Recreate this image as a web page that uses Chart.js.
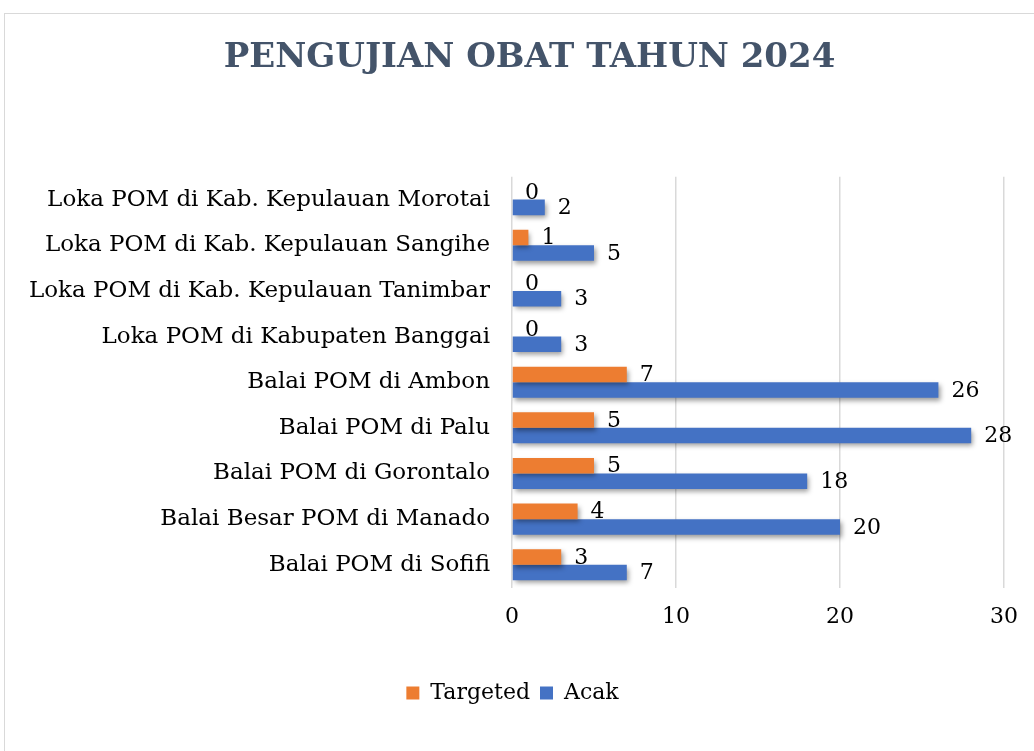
<!DOCTYPE html>
<html><head><meta charset="utf-8">
<script src="https://cdn.jsdelivr.net/npm/chart.js@4.4.1/dist/chart.umd.min.js"></script>
<style>
html,body{margin:0;padding:0;background:#fff;overflow:hidden;}
#frame{position:absolute;left:4px;top:13px;width:1040px;height:760px;border:1px solid #d9d9d9;box-sizing:border-box;}
#wrap{position:absolute;left:0;top:0;width:1029px;height:737px;}
</style></head>
<body>
<div id="frame"><div id="wrap"><canvas id="c"></canvas></div></div>
<script>
const categories = [
  "Loka POM di Kab. Kepulauan Morotai",
  "Loka POM di Kab. Kepulauan Sangihe",
  "Loka POM di Kab. Kepulauan Tanimbar",
  "Loka POM di Kabupaten Banggai",
  "Balai POM di Ambon",
  "Balai POM di Palu",
  "Balai POM di Gorontalo",
  "Balai Besar POM di Manado",
  "Balai POM di Sofifi"
];
const targeted = [0, 1, 0, 0, 7, 5, 5, 4, 3];
const acak = [2, 5, 3, 3, 26, 28, 18, 20, 7];
const xTicks = [0, 10, 20, 30];

const serif = "'DejaVu Serif', serif";

const shiftPlugin = {
  id: 'shiftBoxes',
  afterLayout(chart) {
    if (chart.titleBlock) { chart.titleBlock.left += 24; chart.titleBlock.right += 24; }
    if (chart.legend) { chart.legend.left += 7; chart.legend.right += 7; }
  }
};

const shadowPlugin = {
  id: 'shadowLabels',
  beforeDatasetsDraw(chart) {
    const ctx = chart.ctx;
    ctx.save();
    ctx.shadowColor = 'rgba(0,0,0,0.4)';
    ctx.shadowBlur = 5;
    ctx.shadowOffsetX = 2;
    ctx.shadowOffsetY = 3;
  },
  afterDatasetsDraw(chart) {
    const ctx = chart.ctx;
    ctx.restore();
    ctx.save();
    ctx.font = "22px " + serif;
    ctx.fillStyle = '#000';
    ctx.textAlign = 'left';
    ctx.textBaseline = 'middle';
    chart.data.datasets.forEach((ds, i) => {
      const meta = chart.getDatasetMeta(i);
      meta.data.forEach((el, j) => {
        const v = ds.data[j];
        ctx.fillText(String(v), el.x + 13, el.y + 1);
      });
    });
    ctx.restore();
  }
};

new Chart(document.getElementById('c'), {
  type: 'bar',
  data: {
    labels: categories,
    datasets: [
      { label: 'Targeted', data: targeted, backgroundColor: '#ED7D31', categoryPercentage: 0.68, barPercentage: 1.0 },
      { label: 'Acak', data: acak, backgroundColor: '#4472C4', categoryPercentage: 0.68, barPercentage: 1.0 }
    ]
  },
  options: {
    indexAxis: 'y',
    responsive: true,
    maintainAspectRatio: false,
    animation: false,
    layout: { padding: { left: 0, right: 28, top: 0, bottom: 37 } },
    plugins: {
      title: {
        display: true,
        text: 'PENGUJIAN OBAT TAHUN 2024',
        color: '#44546A',
        font: { family: serif, size: 34, weight: 'bold' },
        padding: { top: 24, bottom: 98 }
      },
      legend: {
        position: 'bottom',
        labels: {
          color: '#000',
          font: { family: serif, size: 22 },
          boxWidth: 13, boxHeight: 13, padding: 10
        }
      },
      tooltip: { enabled: false }
    },
    scales: {
      x: {
        min: 0, max: 30,
        afterBuildTicks(scale) { scale.ticks = xTicks.map(v => ({ value: v })); },
        afterFit(scale) { scale.height += 26; },
        grid: { color: '#d9d9d9', lineWidth: 1.5, drawTicks: false },
        border: { display: false },
        ticks: { color: '#000', font: { family: serif, size: 22 }, padding: 16 }
      },
      y: {
        afterFit(scale) { scale.width = 507; },
        grid: { display: false, drawTicks: false },
        border: { display: false },
        ticks: { color: '#000', font: { family: serif, size: 23 }, padding: 22 }
      }
    }
  },
  plugins: [shiftPlugin, shadowPlugin]
});
</script>
</body></html>
